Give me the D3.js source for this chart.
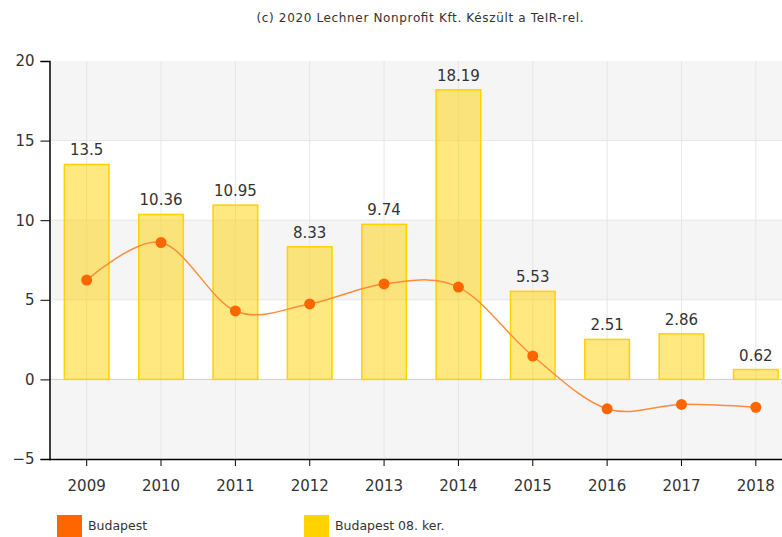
<!DOCTYPE html>
<html>
<head>
<meta charset="utf-8">
<script src="https://cdn.jsdelivr.net/npm/d3@7"></script>
<style>
  body { margin: 0; background: #fff; }
  text { font-family: "DejaVu Sans", Verdana, sans-serif; fill: #333; }
</style>
</head>
<body>
<div id="chart"></div>
<script>
// data
var years = ["2009", "2010", "2011", "2012", "2013", "2014", "2015", "2016", "2017", "2018"];
var district = [13.5, 10.36, 10.95, 8.33, 9.74, 18.19, 5.53, 2.51, 2.86, 0.62];   // Budapest 08. ker.
var budapest = [6.24, 8.6, 4.3, 4.74, 6.0, 5.8, 1.47, -1.85, -1.57, -1.75];       // Budapest
var yTicks = [-5, 0, 5, 10, 15, 20];
var seriesNames = ["Budapest", "Budapest 08. ker."];
var seriesColors = ["#ff6600", "#ffd200"];

var width = 782, height = 537;
var plotLeft = 49.5, plotRight = 793, plotTop = 61, plotBottom = 459;

var svg = d3.select("#chart").append("svg")
    .attr("width", width)
    .attr("height", height);

var x = d3.scaleBand()
    .domain(years)
    .range([plotLeft, plotRight])
    .paddingInner(0.4)
    .paddingOuter(0.2);

var y = d3.scaleLinear()
    .domain([-5, 20])
    .range([plotBottom, plotTop]);

// alternating background bands
var bands = d3.pairs(yTicks);
svg.selectAll("rect.band")
    .data(bands)
    .enter().append("rect")
    .attr("class", "band")
    .attr("x", plotLeft)
    .attr("width", width - plotLeft)
    .attr("y", function(d) { return y(d[1]); })
    .attr("height", function(d) { return y(d[0]) - y(d[1]); })
    .attr("fill", function(d, i) { return i % 2 == 0 ? "#f5f5f5" : "#ffffff"; });

// horizontal grid
svg.selectAll("line.hgrid")
    .data(yTicks.slice(1, -1))
    .enter().append("line")
    .attr("x1", plotLeft).attr("x2", width)
    .attr("y1", function(d) { return y(d); })
    .attr("y2", function(d) { return y(d); })
    .attr("stroke", function(d) { return d == 0 ? "#cccccc" : "#e6e6e6"; })
    .attr("stroke-width", 1);

// vertical grid at category centers
svg.selectAll("line.vgrid")
    .data(years)
    .enter().append("line")
    .attr("x1", function(d) { return x(d) + x.bandwidth() / 2; })
    .attr("x2", function(d) { return x(d) + x.bandwidth() / 2; })
    .attr("y1", plotTop).attr("y2", plotBottom)
    .attr("stroke", "#e6e6e6");

// bars
svg.selectAll("rect.bar")
    .data(district)
    .enter().append("rect")
    .attr("class", "bar")
    .attr("x", function(d, i) { return x(years[i]); })
    .attr("width", x.bandwidth())
    .attr("y", function(d) { return y(Math.max(0, d)); })
    .attr("height", function(d) { return Math.abs(y(d) - y(0)); })
    .attr("fill", "rgba(255,210,0,0.5)")
    .attr("stroke", "#ffd200")
    .attr("stroke-width", 1.5);

// bar value labels
svg.selectAll("text.val")
    .data(district)
    .enter().append("text")
    .attr("x", function(d, i) { return x(years[i]) + x.bandwidth() / 2; })
    .attr("y", function(d) { return y(d) - 9; })
    .attr("text-anchor", "middle")
    .attr("font-size", "15px")
    .text(function(d) { return d; });

// smoothed line
var line = d3.line()
    .x(function(d, i) { return x(years[i]) + x.bandwidth() / 2; })
    .y(function(d) { return y(d); })
    .curve(d3.curveCardinal.tension(0));

svg.append("path")
    .datum(budapest)
    .attr("fill", "none")
    .attr("stroke", "#ff8c3a")
    .attr("stroke-width", 1.5)
    .attr("d", line);

svg.selectAll("circle.pt")
    .data(budapest)
    .enter().append("circle")
    .attr("cx", function(d, i) { return x(years[i]) + x.bandwidth() / 2; })
    .attr("cy", function(d) { return y(d); })
    .attr("r", 5.5)
    .attr("fill", "#ff6600");

// axes
var yAxis = svg.append("g")
    .attr("transform", "translate(" + plotLeft + ",0)")
    .call(d3.axisLeft(y).tickValues(yTicks).tickSize(9).tickPadding(6));
yAxis.selectAll("text").attr("font-size", "15px");

var xAxis = svg.append("g")
    .attr("transform", "translate(0," + plotBottom + ")")
    .call(d3.axisBottom(x).tickSize(7).tickPadding(14));
xAxis.selectAll("text").attr("font-size", "15px");
xAxis.select(".domain").attr("d", "M" + plotLeft + ",0.5H" + width);

svg.selectAll(".domain").attr("stroke", "#000").attr("stroke-width", 1.5);
svg.selectAll(".tick line").attr("stroke", "#000");

// title
svg.append("text")
    .attr("x", 420)
    .attr("y", 22)
    .attr("text-anchor", "middle")
    .attr("font-size", "12px")
    .attr("textLength", 327)
    .attr("lengthAdjust", "spacing")
    .text("(c) 2020 Lechner Nonprofit Kft. Készült a TeIR-rel.");

// legend
var legendX = [57, 304];
var legend = svg.selectAll("g.legend")
    .data(seriesNames)
    .enter().append("g")
    .attr("transform", function(d, i) { return "translate(" + legendX[i] + ",515)"; });
legend.append("rect")
    .attr("width", 25).attr("height", 24)
    .attr("fill", function(d, i) { return seriesColors[i]; });
legend.append("text")
    .attr("x", 31).attr("y", 15)
    .attr("font-size", "12.5px")
    .text(function(d) { return d; });
</script>
</body>
</html>
